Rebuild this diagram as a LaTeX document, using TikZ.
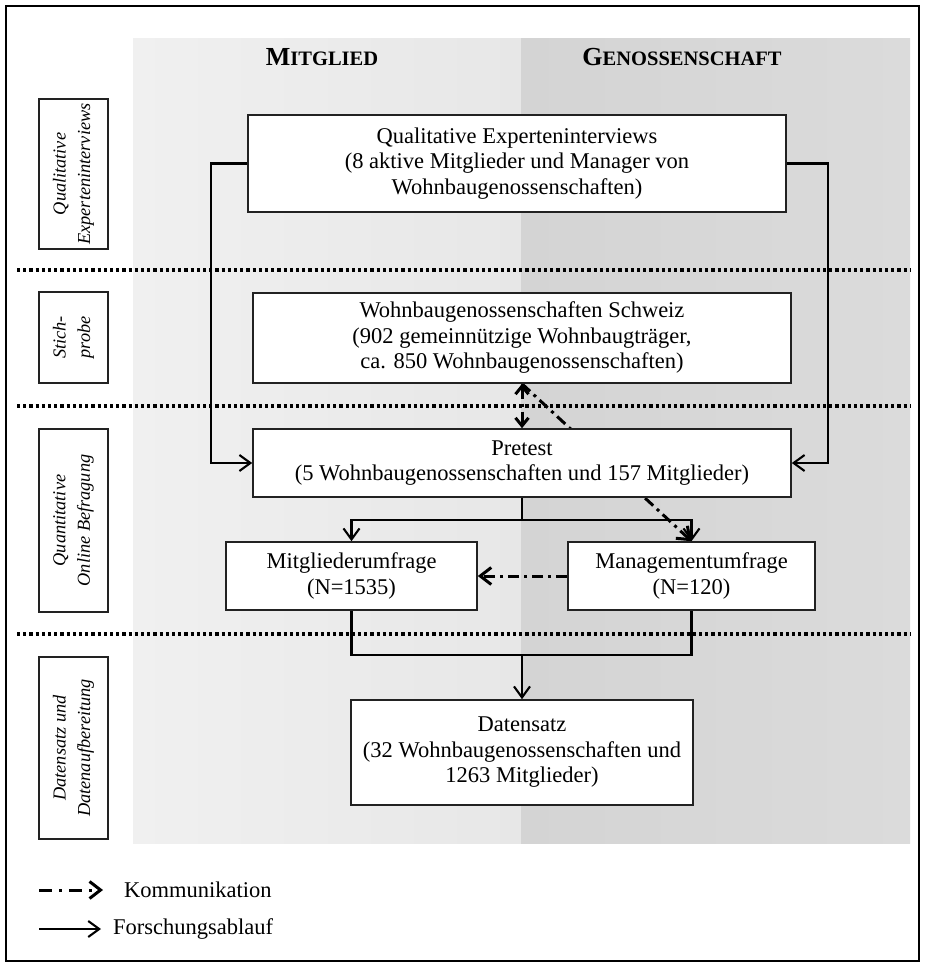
\documentclass[tikz,border=0pt]{standalone}
\usepackage{fontspec}
\setmainfont{Liberation Serif}
\usetikzlibrary{arrows.meta}
\pgfdeclarelayer{bg}
\pgfdeclarelayer{mid}
\pgfsetlayers{bg,mid,main}
\definecolor{colLa}{HTML}{F0F0F0}
\definecolor{colLb}{HTML}{E7E7E7}
\definecolor{colRa}{HTML}{D4D4D4}
\definecolor{colRb}{HTML}{DBDBDB}
\definecolor{edge}{HTML}{222222}
\begin{document}
\begin{tikzpicture}[x=1pt,y=-1pt,
  box/.style={draw=edge, line width=1.6pt, fill=white, align=center,
    inner sep=0pt, font=\fontsize{22.5}{25.5}\selectfont},
  phase/.style={draw=edge, line width=1.3pt, fill=white, rotate=90,
    align=center, inner sep=0pt, minimum height=69pt,
    font=\fontsize{18.3}{24.5}\selectfont\itshape},
  head/.style={font=\bfseries, inner sep=0pt},
  sep/.style={line width=3.2pt, dash pattern=on 3.2pt off 3pt},
  flow/.style={line width=2.1pt, -{Straight Barb[length=11pt,width=16pt]}},
  commline/.style={line width=3pt, dash pattern=on 11pt off 5pt on 3pt off 5pt},
  comm/.style={commline, -{Straight Barb[length=11pt,width=17pt]}},
  commboth/.style={commline, {Straight Barb[length=8pt,width=13pt]}-{Straight Barb[length=8pt,width=13pt]}}
]
\useasboundingbox (0,0) rectangle (924,964);

% column backgrounds
\begin{pgfonlayer}{bg}
  \shade[left color=colLa, right color=colLb] (133,38) rectangle (521,843);
  \shade[left color=colRa, right color=colRb] (521,38) rectangle (910,843);
\end{pgfonlayer}

% outer frame
\draw[line width=2.8pt] (6,6) rectangle (919,961);

% column headings
\node[head] (hm) at (322,57) {{\fontsize{26}{26}\selectfont M}{\fontsize{20.5}{26}\selectfont ITGLIED}};
\node[head] (hg) at (682,57) {{\fontsize{26}{26}\selectfont G}{\fontsize{20.5}{26}\selectfont ENOSSENSCHAFT}};

% phase separators
\coordinate (s1a) at (17,270); \coordinate (s1b) at (910,270);
\coordinate (s2a) at (17,406); \coordinate (s2b) at (910,406);
\coordinate (s3a) at (17,634); \coordinate (s3b) at (910,634);
\draw[sep] (s1a) -- (s1b);
\draw[sep] (s2a) -- (s2b);
\draw[sep] (s3a) -- (s3b);

% phase labels
\node[phase, minimum width=150pt] (l1) at (73.5,174) {Qualitative\\Experteninterviews};
\node[phase, minimum width=91pt] (l2) at (73.5,337.5) {Stich-\\probe};
\node[phase, minimum width=183pt] (l3) at (73.5,520.5) {Quantitative\\Online Befragung};
\node[phase, minimum width=182pt] (l4) at (73.5,748) {Datensatz und\\Datenaufbereitung};

% process boxes
\node[box, minimum width=538pt, minimum height=97pt] (q) at (517,163.5)
  {Qualitative Experteninterviews\\(8 aktive Mitglieder und Manager von\\Wohnbaugenossenschaften)};
\node[box, minimum width=538pt, minimum height=90pt] (s) at (522,338)
  {Wohnbaugenossenschaften Schweiz\\(902 gemeinnützige Wohnbaugträger,\\ca. 850 Wohnbaugenossenschaften)};
\node[box, minimum width=538pt, minimum height=68pt] (p) at (522,463)
  {Pretest\\(5 Wohnbaugenossenschaften und 157 Mitglieder)};
\node[box, minimum width=251pt, minimum height=68pt] (m) at (351.5,576)
  {Mitgliederumfrage\\(N=1535)};
\node[box, minimum width=247pt, minimum height=68pt] (g) at (691.5,576)
  {Managementumfrage\\(N=120)};
\node[box, minimum width=342pt, minimum height=105pt] (d) at (522,752.5)
  {Datensatz\\(32 Wohnbaugenossenschaften und\\1263 Mitglieder)};

% research flow
\draw[flow] (q.west) -- ++(-36,0) |- (p.west);
\draw[flow] (q.east) -- ++(41,0) |- (p.east);
\coordinate (split) at (522,520);
\draw[line width=2.1pt] (p.south) -- (split);
\draw[flow] (split) -| (m.north);
\draw[flow] (split) -| (g.north);
\coordinate (join) at (522,655);
\draw[line width=2.1pt] (m.south) |- (join) -| (g.south);
\draw[flow] (join) -- (d.north);

% communication
\begin{pgfonlayer}{mid}
  \draw[comm] (s.south) -- (g.north);
\end{pgfonlayer}
\draw[commboth] (s.south) -- (p.north);
\draw[comm] (g.west) -- (m.east);

% legend
\coordinate (k1) at (39,890); \coordinate (k2) at (103,890);
\coordinate (f1) at (39,929); \coordinate (f2) at (101,929);
\draw[comm, dash pattern=on 13pt off 7pt on 3pt off 7pt] (k1) -- (k2);
\draw[flow] (f1) -- (f2);
\node[anchor=west, inner sep=0pt, font=\fontsize{22.5}{25}\selectfont] (kt) at (124,890) {Kommunikation};
\node[anchor=west, inner sep=0pt, font=\fontsize{22.5}{25}\selectfont] (ft) at (113,929) {Forschungsablauf};
\end{tikzpicture}
\end{document}
